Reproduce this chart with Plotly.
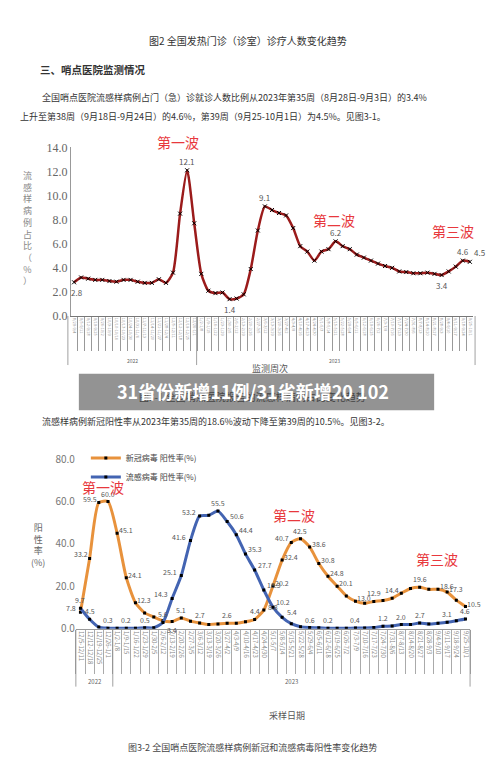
import plotly.graph_objects as go
import datetime as dt

# ---------- data ----------
ili_start = dt.date(2022, 8, 29)
ili_values = [2.8, 3.2, 3.1, 3.0, 3.0, 2.9, 2.85, 3.0, 3.0, 2.85, 2.75, 2.75, 3.05, 2.75, 3.6,
              8.5, 12.1, 7.7, 3.5, 2.1, 1.9, 1.95, 1.4, 1.45, 1.8, 3.9, 7.1, 9.1, 8.8, 8.55,
              8.35, 7.3, 5.8, 5.35, 4.6, 5.35, 5.55, 6.2, 5.8, 5.55, 5.1, 4.85, 4.6, 4.35, 4.15,
              4.0, 3.7, 3.65, 3.55, 3.55, 3.6, 3.5, 3.4, 3.7, 4.1, 4.6, 4.5]
ili_label_idx = [0, 16, 22, 27, 37, 52, 55, 56]

def wk(d):
    e = d + dt.timedelta(days=6)
    return f"{d.month}/{d.day}-{e.month}/{e.day}"

ili_weeks = [wk(ili_start + dt.timedelta(weeks=i)) for i in range(len(ili_values))]

pos_weeks = ["12/5-12/11", "12/12-12/18", "12/19-12/25", "12/26-1/1", "1/2-1/8", "1/9-1/15",
             "1/16-1/22", "1/23-1/29", "1/30-2/5", "2/6-2/12", "2/13-2/19", "2/20-2/26",
             "2/27-3/5", "3/6-3/12", "3/13-3/19", "3/20-3/26", "3/27-4/2", "4/3-4/9",
             "4/10-4/16", "4/17-4/23", "4/24-4/30", "5/1-5/7", "5/8-5/14", "5/15-5/21",
             "5/22-5/28", "5/29-6/4", "6/5-6/11", "6/12-6/18", "6/19-6/25", "6/26-7/2",
             "7/3-7/9", "7/10-7/16", "7/17-7/23", "7/24-7/30", "7/31-8/6", "8/7-8/13",
             "8/14-8/20", "8/21-8/27", "8/28-9/3", "9/4-9/10", "9/11-9/17", "9/18-9/24",
             "9/25-10/1"]
covid = [7.8, 33.2, 59.5, 60.0, 45.1, 24.1, 12.3, 7.5, 5.6, 3.8, 3.4, 5.1, 3.6, 2.7, 2.0,
         2.3, 2.6, 2.6, 3.3, 4.4, 8.8, 20.2, 32.4, 40.7, 42.5, 38.6, 30.8, 24.8, 20.1, 15.5,
         13.0, 12.0, 12.9, 13.3, 14.4, 16.8, 19.0, 19.6, 18.6, 18.6, 17.3, 13.5, 10.5]
flu = [9.7, 4.5, 0.8, 0.3, 0.2, 0.2, 0.2, 0.5, 0.5, 3.0, 14.3, 25.1, 41.6, 53.2, 53.5, 55.5,
       50.6, 44.4, 35.3, 27.7, 18.3, 10.2, 5.4, 2.4, 1.0, 0.6, 0.5, 0.2, 0.2, 0.2, 0.4, 0.4,
       0.6, 1.2, 1.3, 2.0, 2.0, 2.7, 2.2, 2.6, 3.1, 3.8, 4.6]
covid_label_idx = [0, 1, 2, 3, 4, 5, 6, 8, 10, 11, 13, 16, 19, 20, 21, 22, 23, 24, 25, 26,
                   27, 28, 30, 32, 34, 37, 39, 40, 42]
flu_label_idx = [0, 1, 3, 5, 7, 10, 11, 12, 13, 15, 16, 17, 18, 19, 20, 21, 22, 25, 27, 30,
                 33, 35, 37, 40, 42]

W, H = 500, 767
FONT = "Noto Sans CJK SC"
GRAY = "#666"
RED = "#E8383D"

def py(p):
    return 1 - p / H

fig = go.Figure()

# chart 1
fig.add_trace(go.Scatter(x=ili_weeks, y=ili_values, mode="lines+markers", xaxis="x", yaxis="y",
                         line=dict(color="#9B1B1B", width=2.5, shape="spline", smoothing=0.6),
                         marker=dict(symbol="x-thin", size=4, color="black",
                                     line=dict(color="black", width=1)),
                         showlegend=False, hoverinfo="skip"))
# chart 2
fig.add_trace(go.Scatter(x=pos_weeks, y=covid, mode="lines+markers", xaxis="x2", yaxis="y2",
                         name="新冠病毒 阳性率(%)",
                         line=dict(color="#E8923C", width=3, shape="spline", smoothing=0.6),
                         marker=dict(symbol="square", size=3, color="black")))
fig.add_trace(go.Scatter(x=pos_weeks, y=flu, mode="lines+markers", xaxis="x2", yaxis="y2",
                         name="流感病毒 阳性率(%)",
                         line=dict(color="#4364B2", width=3, shape="spline", smoothing=0.6),
                         marker=dict(symbol="square", size=3, color="black")))

ann = []
shapes = []

def text(x, y, s, size=10, color="#333", xanchor="left", bold=False):
    ann.append(dict(x=x / W, y=py(y), xref="paper", yref="paper", text=f"<b>{s}</b>" if bold else s,
                    showarrow=False, xanchor=xanchor, yanchor="middle",
                    font=dict(family=FONT, size=size, color=color)))

text(240, 25, "图2 全国发热门诊（诊室）诊疗人数变化趋势", 10, xanchor="center")
text(30, 55, "三、哨点医院监测情况", 10.5, bold=True)
text(32, 83, "全国哨点医院流感样病例占门（急）诊就诊人数比例从2023年第35周（8月28日-9月3日）的3.4%", 9)
text(10, 102, "上升至第38周（9月18日-9月24日）的4.6%，第39周（9月25-10月1日）为4.5%。见图3-1。", 9)

# chart1 labels
for i in ili_label_idx:
    ys = -10 if i in (0, 22, 52) else 9
    xs = 10 if i == 56 else (3 if i == 0 else 0)
    ann.append(dict(x=ili_weeks[i], y=ili_values[i], xref="x", yref="y", text=f"{ili_values[i]:.1f}",
                    showarrow=False, yshift=ys, xshift=xs,
                    font=dict(family=FONT, size=8, color="#555")))
text(170, 129, "第一波", 14, RED, "center")
text(327, 208, "第二波", 14, RED, "center")
text(446, 219, "第三波", 14, RED, "center")
text(20, 216, "<br>".join("流感样病例占比（%）"), 9, "#888", "center")
text(263, 360, "监测周次", 9, "#555", "center")
text(125, 351, "2022", 5, GRAY, "center")
text(327, 351, "2023", 5, GRAY, "center")
for xp in (60, 189, 468):
    shapes.append(dict(type="line", xref="paper", yref="paper", x0=xp / W, x1=xp / W,
                       y0=py(306), y1=py(356), line=dict(color="#888", width=0.8)))

# faint caption under the banner
text(245, 388, "图3-1 全国哨点医院报告的流感样病例占比变化趋势", 10, "#444", "center")
# banner
shapes.append(dict(type="rect", xref="paper", yref="paper", x0=71 / W, x1=427 / W,
                   y0=py(402), y1=py(365), fillcolor="rgba(120,120,120,0.8)", line=dict(width=0)))
text(245, 382, "31省份新增11例/31省新增20 102", 18, "white", "center", bold=True)
text(32, 414, "流感样病例新冠阳性率从2023年第35周的18.6%波动下降至第39周的10.5%。见图3-2。", 9)

# chart2 labels
for i in covid_label_idx:
    xs, ys = (-9, 4) if i < 4 or i in (23,) else (9, 3)
    if i in (3, 11, 13, 16, 19, 24, 32, 34, 37):
        xs, ys = 0, 8
    if i in (10,):
        xs, ys = 0, -8
    ann.append(dict(x=pos_weeks[i], y=covid[i], xref="x2", yref="y2", text=f"{covid[i]:.1f}",
                    showarrow=False, xshift=xs, yshift=ys, font=dict(family=FONT, size=7, color="#555")))
for i in flu_label_idx:
    xs, ys = (0, 8)
    if 10 <= i <= 13:
        xs, ys = -11, 4
    if 16 <= i <= 22:
        xs, ys = 10, 5
    ann.append(dict(x=pos_weeks[i], y=flu[i], xref="x2", yref="y2", text=f"{flu[i]:.1f}",
                    showarrow=False, xshift=xs, yshift=ys, font=dict(family=FONT, size=7, color="#555")))
text(95, 480, "第一波", 14, RED, "center")
text(287, 509, "第二波", 14, RED, "center")
text(430, 554, "第三波", 14, RED, "center")
text(30, 540, "<br>".join("阳性率") + "<br>(%)", 9, "#666", "center")
text(87, 679, "2022", 6, GRAY, "center")
text(284, 679, "2023", 6, GRAY, "center")
for xp in (68, 105, 463):
    shapes.append(dict(type="line", xref="paper", yref="paper", x0=xp / W, x1=xp / W,
                       y0=py(626), y1=py(684), line=dict(color="#888", width=0.8)))
text(280, 713, "采样日期", 9, "#555", "center")
text(245, 746, "图3-2 全国哨点医院流感样病例新冠和流感病毒阳性率变化趋势", 9, "#444", "center")

fig.update_layout(
    width=W, height=H, margin=dict(l=0, r=0, t=0, b=0),
    paper_bgcolor="white", plot_bgcolor="white",
    annotations=ann, shapes=shapes,
    font=dict(family=FONT),
    legend=dict(x=78 / W, y=py(436), xanchor="left", yanchor="top", bgcolor="rgba(0,0,0,0)",
                font=dict(family=FONT, size=8, color="#444"), tracegroupgap=0, itemwidth=30),
    xaxis=dict(domain=[63 / W, 466 / W], type="category", range=[-0.45, 56.45],
               tickangle=90, tickfont=dict(size=4, color="#999"), showline=True,
               linecolor="#777", ticks="outside", ticklen=34, tickcolor="#999",
               tickson="boundaries", showgrid=False, anchor="y"),
    yaxis=dict(domain=[py(306), py(134)], range=[0, 14], dtick=2, tickformat=".1f",
               tickfont=dict(family="Liberation Serif", size=12, color="#666"),
               showgrid=False, zeroline=False, showline=True, linecolor="#999", anchor="x"),
    xaxis2=dict(domain=[68 / W, 463 / W], type="category", range=[-0.5, 42.5],
                tickangle=90, tickfont=dict(size=6, color="#888"), showline=True,
                linecolor="#999", ticks="outside", ticklen=44, tickcolor="#aaa",
                tickson="boundaries", showgrid=False, anchor="y2"),
    yaxis2=dict(domain=[py(625), py(452)], range=[0, 80], dtick=20, tickformat=".1f",
                tickfont=dict(size=10, color="#777"), showgrid=False, zeroline=False,
                showline=False, anchor="x2"),
)

fig.write_html("out.html")
